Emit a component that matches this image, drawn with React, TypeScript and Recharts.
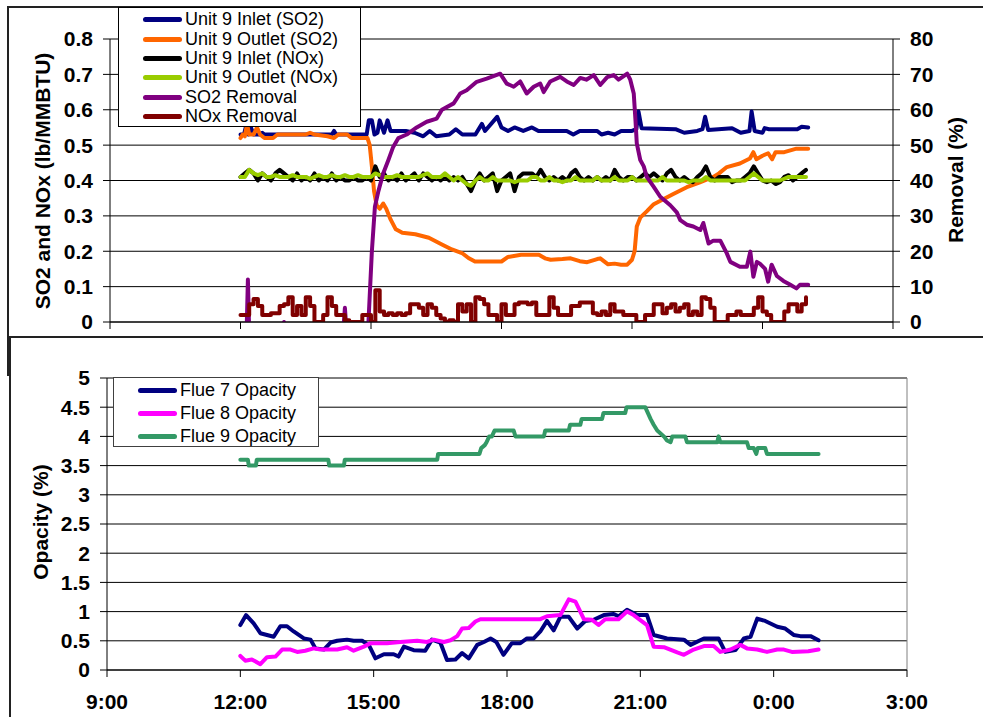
import React from 'react';
import { LineChart, Line, XAxis, YAxis, CartesianGrid, ReferenceLine } from 'recharts';

const FONT = 'Arial, "Liberation Sans", Helvetica, sans-serif';

// ---- axes ----
const HOUR_TICKS = [9, 12, 15, 18, 21, 24, 27];
const LB_TICKS = [0, 0.1, 0.2, 0.3, 0.4, 0.5, 0.6, 0.7, 0.8];
const PCT_TICKS = [0, 10, 20, 30, 40, 50, 60, 70, 80];
const OPACITY_TICKS = [0, 0.5, 1, 1.5, 2, 2.5, 3, 3.5, 4, 4.5, 5];

// ---- NOx logger: 6-minute readings from 12:00 ----
const NOX_START = 12;
const NOX_STEP = 0.1;

const inletNOx = [
  0.41, 0.42, 0.43, 0.42, 0.40, 0.42, 0.41, 0.40, 0.42, 0.43,
  0.42, 0.41, 0.40, 0.42, 0.40, 0.41, 0.40, 0.42, 0.40, 0.41,
  0.40, 0.42, 0.40, 0.41, 0.40, 0.40, 0.41, 0.40, 0.40, 0.41,
  0.40, 0.44, 0.41, 0.42, 0.40, 0.41, 0.40, 0.42, 0.40, 0.41,
  0.42, 0.40, 0.42, 0.41, 0.40, 0.41, 0.40, 0.41, 0.40, 0.41,
  0.40, 0.41, 0.39, 0.37, 0.40, 0.42, 0.40, 0.41, 0.42, 0.37,
  0.40, 0.41, 0.42, 0.37, 0.41, 0.42, 0.42, 0.42, 0.41, 0.43,
  0.41, 0.40, 0.41, 0.40, 0.41, 0.40, 0.42, 0.43, 0.41, 0.40,
  0.41, 0.40, 0.41, 0.40, 0.41, 0.40, 0.43, 0.41, 0.40, 0.41,
  0.41, 0.40, 0.41, 0.42, 0.41, 0.42, 0.41, 0.40, 0.42, 0.43,
  0.41, 0.40, 0.41, 0.40, 0.395, 0.41, 0.42, 0.44, 0.41, 0.40,
  0.41, 0.41, 0.41, 0.395, 0.40, 0.40, 0.41, 0.42, 0.44, 0.42,
  0.40, 0.395, 0.40, 0.39, 0.395, 0.41, 0.415, 0.40, 0.41, 0.42,
  0.43,
];

const outletNOx = [
  0.41, 0.41, 0.43, 0.42, 0.415, 0.42, 0.41, 0.41, 0.415, 0.41,
  0.41, 0.41, 0.415, 0.41, 0.41, 0.41, 0.405, 0.41, 0.415, 0.41,
  0.41, 0.415, 0.41, 0.41, 0.415, 0.41, 0.41, 0.415, 0.41, 0.41,
  0.41, 0.42, 0.415, 0.41, 0.41, 0.41, 0.415, 0.41, 0.41, 0.41,
  0.41, 0.41, 0.415, 0.42, 0.41, 0.41, 0.41, 0.42, 0.41, 0.40,
  0.41, 0.40, 0.39, 0.385, 0.40, 0.41, 0.40, 0.40, 0.41, 0.40,
  0.40, 0.40, 0.40, 0.395, 0.40, 0.40, 0.40, 0.41, 0.41, 0.40,
  0.40, 0.41, 0.40, 0.40, 0.395, 0.40, 0.40, 0.41, 0.40, 0.40,
  0.40, 0.40, 0.41, 0.40, 0.40, 0.40, 0.41, 0.40, 0.40, 0.40,
  0.41, 0.40, 0.40, 0.40, 0.40, 0.40, 0.40, 0.41, 0.40, 0.40,
  0.40, 0.40, 0.40, 0.395, 0.40, 0.40, 0.40, 0.41, 0.40, 0.40,
  0.40, 0.40, 0.40, 0.40, 0.40, 0.40, 0.40, 0.41, 0.42, 0.41,
  0.40, 0.40, 0.40, 0.40, 0.40, 0.405, 0.41, 0.41, 0.41, 0.41,
  0.41,
];

// NOx removal, %
const noxRemoval = [
  2, 2, 5, 6.5, 4.5, 2, 2, 2.5, 2.5, 4.5,
  5, 7, 2, 4.5, 2, 7, 4.5, 0, 0, 2,
  7, 4.5, 2, 2, 0.5, 0, 0, 0, 2, 2,
  0, 9, 3, 2, 2.5, 2, 2.5, 2, 2.5, 5,
  5, 4, 2, 5, 4, 2, 1, 0, 0.5, 0,
  5, 3, 5, 0, 7, 6.5, 5, 2, 2, 0,
  5, 2, 2, 5, 5.5, 5.5, 5, 5.5, 2, 2,
  2, 7, 4, 2, 2, 2, 4.5, 4.5, 5.5, 5.5,
  5.5, 2.5, 2, 3, 2, 5, 3, 3, 2, 2,
  2, 0, 0, 2, 2, 5, 5, 2.5, 4, 5,
  3, 4, 5, 2, 3, 2, 7, 6.5, 4, 0,
  0, 0, 2, 2, 3, 2, 2, 2, 4, 7,
  3, 2, 0, 0, 0, 3, 5, 5, 3, 5,
  7,
];

// ---- SO2 analyser: [hour, value] ----
const inletSO2: [number, number][] = [
  [12.0, 0.53], [12.08, 0.53], [12.12, 0.55], [12.18, 0.53], [12.24, 0.55], [12.3, 0.53],
  [12.45, 0.53], [12.5, 0.535], [12.55, 0.53], [14.1, 0.53], [14.15, 0.54], [14.2, 0.53],
  [14.9, 0.53], [14.95, 0.57], [15.02, 0.57], [15.08, 0.53], [15.15, 0.535], [15.2, 0.57],
  [15.3, 0.535], [15.38, 0.57], [15.45, 0.54], [15.8, 0.54], [16.0, 0.535], [16.2, 0.525],
  [16.35, 0.54], [16.5, 0.525], [16.8, 0.53], [16.95, 0.545], [17.1, 0.53], [17.4, 0.53],
  [17.55, 0.56], [17.62, 0.54], [17.9, 0.58], [18.0, 0.55], [18.15, 0.54], [18.3, 0.55],
  [18.5, 0.54], [18.7, 0.55], [18.85, 0.54], [19.5, 0.54], [19.65, 0.53], [19.8, 0.54],
  [20.2, 0.54], [20.3, 0.53], [20.45, 0.535], [20.6, 0.53], [20.75, 0.54], [21.0, 0.54],
  [21.1, 0.545], [21.15, 0.595], [21.22, 0.548], [22.0, 0.545], [22.2, 0.535], [22.5, 0.54],
  [22.62, 0.545], [22.68, 0.58], [22.75, 0.543], [23.3, 0.548], [23.5, 0.535], [23.7, 0.54],
  [23.75, 0.595], [23.82, 0.54], [24.0, 0.535], [24.05, 0.548], [24.15, 0.545], [24.8, 0.545],
  [24.9, 0.552], [25.05, 0.55],
];

const outletSO2: [number, number][] = [
  [12.0, 0.52], [12.05, 0.53], [12.1, 0.525], [12.15, 0.56], [12.2, 0.53], [12.3, 0.53],
  [12.38, 0.55], [12.45, 0.53], [12.55, 0.52], [12.75, 0.52], [12.85, 0.53], [13.5, 0.53],
  [13.6, 0.535], [13.7, 0.53], [14.0, 0.525], [14.15, 0.52], [14.25, 0.53], [14.45, 0.53],
  [14.55, 0.52], [14.92, 0.52], [14.97, 0.5], [15.02, 0.44], [15.07, 0.37], [15.13, 0.33],
  [15.2, 0.32], [15.28, 0.335], [15.35, 0.32], [15.45, 0.29], [15.57, 0.262], [15.72, 0.252],
  [16.02, 0.248], [16.33, 0.238], [16.63, 0.219], [16.86, 0.205], [17.09, 0.195], [17.24, 0.181],
  [17.39, 0.171], [18.0, 0.171], [18.15, 0.184], [18.45, 0.19], [18.86, 0.19], [19.0, 0.18],
  [19.13, 0.176], [19.4, 0.178], [19.59, 0.18], [19.8, 0.172], [19.97, 0.169], [20.2, 0.178],
  [20.27, 0.18], [20.45, 0.163], [20.6, 0.165], [20.75, 0.162], [20.89, 0.162], [21.0, 0.176],
  [21.06, 0.2], [21.11, 0.27], [21.19, 0.295], [21.35, 0.314], [21.5, 0.333], [21.73, 0.348],
  [21.95, 0.362], [22.26, 0.381], [22.56, 0.395], [22.87, 0.41], [23.0, 0.42], [23.18, 0.438],
  [23.48, 0.448], [23.71, 0.462], [23.79, 0.48], [23.86, 0.46], [24.0, 0.47], [24.13, 0.477],
  [24.22, 0.46], [24.3, 0.48], [24.5, 0.48], [24.78, 0.49], [25.05, 0.49],
];

// SO2 removal, % (slightly negative before the scrubber comes on line)
const so2Removal: [number, number][] = [
  [12.0, -3], [12.14, -3], [12.17, 12], [12.2, -3], [12.95, -3], [13.0, 0], [13.05, -3],
  [14.36, -3], [14.4, 4], [14.44, -3], [14.93, -3],
  [15.02, 20], [15.09, 32.6], [15.17, 37], [15.28, 42], [15.4, 45.8], [15.51, 49.5], [15.63, 52],
  [15.82, 53], [16.05, 55], [16.28, 56.6], [16.51, 57.5], [16.63, 60], [16.9, 61.8], [17.05, 64.6],
  [17.2, 65.5], [17.43, 67.9], [17.66, 68.8], [17.97, 70.2], [18.12, 67.4], [18.28, 66.5],
  [18.43, 68], [18.58, 64.6], [18.74, 66.5], [18.89, 67.4], [18.97, 65], [19.12, 68], [19.35, 69.3],
  [19.5, 68], [19.66, 67], [19.81, 69], [19.95, 68.5], [20.12, 69.8], [20.27, 67], [20.43, 69.2],
  [20.58, 69.8], [20.69, 68.5], [20.81, 69.5], [20.89, 70.2], [20.96, 68.5], [21.04, 64.6],
  [21.08, 57], [21.11, 50.5], [21.19, 45.8], [21.27, 44], [21.34, 41], [21.5, 38.2], [21.65, 35.4],
  [21.88, 33], [22.03, 31], [22.11, 28.8], [22.26, 27.5], [22.41, 27], [22.57, 26], [22.64, 28],
  [22.68, 26], [22.76, 22.2], [22.87, 23], [23.03, 23], [23.18, 19.4], [23.26, 17], [23.48, 15.6],
  [23.64, 15.6], [23.72, 19.9], [23.79, 12.8], [23.87, 17], [23.94, 16.5], [24.06, 15],
  [24.13, 11.4], [24.21, 16.2], [24.33, 13], [24.48, 11.6], [24.63, 10.6], [24.78, 9.5],
  [24.86, 10.5], [25.05, 10.5],
];

// ---- stack opacity, % ----
const flue7: [number, number][] = [
  [12.0, 0.77], [12.13, 0.94], [12.3, 0.8], [12.45, 0.63], [12.6, 0.6], [12.75, 0.57], [12.9, 0.75],
  [13.05, 0.75], [13.2, 0.66], [13.43, 0.54], [13.58, 0.52], [13.69, 0.37], [13.88, 0.35],
  [14.03, 0.47], [14.18, 0.5], [14.4, 0.52], [14.55, 0.5], [14.74, 0.5], [14.89, 0.43], [15.04, 0.2],
  [15.23, 0.27], [15.45, 0.27], [15.56, 0.23], [15.68, 0.4], [15.9, 0.34], [16.16, 0.33],
  [16.31, 0.52], [16.5, 0.47], [16.65, 0.17], [16.84, 0.18], [16.99, 0.29], [17.14, 0.2],
  [17.33, 0.43], [17.48, 0.48], [17.63, 0.54], [17.76, 0.48], [17.92, 0.26], [18.11, 0.46],
  [18.3, 0.46], [18.45, 0.54], [18.6, 0.54], [18.75, 0.66], [18.9, 0.84], [19.05, 0.68],
  [19.2, 0.91], [19.39, 0.91], [19.58, 0.71], [19.76, 0.84], [19.95, 0.86], [20.18, 0.94],
  [20.4, 0.96], [20.51, 0.92], [20.7, 1.03], [20.93, 0.94], [21.15, 0.94], [21.3, 0.6],
  [21.6, 0.54], [21.98, 0.52], [22.13, 0.43], [22.43, 0.54], [22.76, 0.54], [22.91, 0.31],
  [23.14, 0.34], [23.33, 0.54], [23.48, 0.57], [23.63, 0.88], [23.81, 0.84], [24.08, 0.74],
  [24.26, 0.71], [24.45, 0.6], [24.6, 0.58], [24.83, 0.58], [25.01, 0.51],
];

const flue8: [number, number][] = [
  [12.0, 0.24], [12.11, 0.16], [12.26, 0.18], [12.45, 0.1], [12.6, 0.22], [12.79, 0.23],
  [12.94, 0.35], [13.13, 0.35], [13.28, 0.31], [13.46, 0.33], [13.65, 0.37], [13.8, 0.35],
  [14.18, 0.35], [14.4, 0.39], [14.55, 0.33], [14.78, 0.4], [14.93, 0.46], [15.3, 0.46],
  [15.6, 0.48], [15.98, 0.5], [16.2, 0.48], [16.35, 0.52], [16.58, 0.48], [16.73, 0.51],
  [16.88, 0.58], [16.99, 0.71], [17.14, 0.72], [17.29, 0.83], [17.4, 0.87], [18.75, 0.87],
  [18.9, 0.92], [19.2, 0.94], [19.39, 1.21], [19.54, 1.17], [19.73, 0.87], [19.91, 0.86],
  [20.06, 0.77], [20.21, 0.87], [20.51, 0.87], [20.7, 1.0], [20.85, 0.94], [21.15, 0.77],
  [21.3, 0.4], [21.53, 0.39], [21.83, 0.3], [21.98, 0.26], [22.2, 0.35], [22.43, 0.41],
  [22.65, 0.41], [22.8, 0.31], [23.03, 0.35], [23.25, 0.43], [23.4, 0.37], [23.63, 0.35],
  [23.85, 0.31], [24.08, 0.35], [24.23, 0.35], [24.41, 0.31], [24.78, 0.32], [25.01, 0.35],
];

const flue9: [number, number][] = [
  [12.0, 3.6], [12.17, 3.6], [12.19, 3.5], [12.35, 3.5], [12.37, 3.6], [13.98, 3.6], [14.0, 3.5],
  [14.33, 3.5], [14.35, 3.6], [16.43, 3.6], [16.45, 3.7], [17.38, 3.7], [17.42, 3.8], [17.5, 3.85],
  [17.54, 3.9], [17.6, 4.0], [17.66, 4.0], [17.72, 4.1], [18.15, 4.1], [18.19, 4.0], [18.83, 4.0],
  [18.86, 4.1], [19.39, 4.1], [19.42, 4.2], [19.65, 4.2], [19.68, 4.3], [20.14, 4.3], [20.17, 4.4],
  [20.66, 4.4], [20.69, 4.5], [21.11, 4.5], [21.23, 4.3], [21.3, 4.2], [21.38, 4.1], [21.53, 4.0],
  [21.6, 3.93], [21.68, 3.9], [21.72, 4.0], [22.01, 4.0], [22.05, 3.9], [22.73, 3.9], [22.76, 4.0],
  [22.8, 3.9], [23.4, 3.9], [23.44, 3.8], [23.55, 3.8], [23.61, 3.7], [23.64, 3.8], [23.81, 3.8],
  [23.85, 3.7], [25.01, 3.7],
];

type Pt = { t: number; v: number };
const fromGrid = (vals: number[]): Pt[] =>
  vals.map((v, i) => ({ t: Math.round((NOX_START + i * NOX_STEP) * 100) / 100, v }));
const fromPairs = (pts: [number, number][]): Pt[] => pts.map(([t, v]) => ({ t, v }));

type CurveKind = 'linear' | 'stepAfter';
const topSeries: { name: string; color: string; axis: string; curve: CurveKind; data: Pt[] }[] = [
  { name: 'Unit 9 Inlet (SO2)', color: '#000080', axis: 'lb', curve: 'linear', data: fromPairs(inletSO2) },
  { name: 'Unit 9 Outlet (SO2)', color: '#FF6600', axis: 'lb', curve: 'linear', data: fromPairs(outletSO2) },
  { name: 'Unit 9 Inlet (NOx)', color: '#000000', axis: 'lb', curve: 'linear', data: fromGrid(inletNOx) },
  { name: 'Unit 9 Outlet (NOx)', color: '#99CC00', axis: 'lb', curve: 'linear', data: fromGrid(outletNOx) },
  { name: 'SO2 Removal', color: '#800080', axis: 'pct', curve: 'linear', data: fromPairs(so2Removal) },
  { name: 'NOx Removal', color: '#800000', axis: 'pct', curve: 'stepAfter', data: fromGrid(noxRemoval) },
];

const bottomSeries = [
  { name: 'Flue 7 Opacity', color: '#000080', data: fromPairs(flue7) },
  { name: 'Flue 8 Opacity', color: '#FF00FF', data: fromPairs(flue8) },
  { name: 'Flue 9 Opacity', color: '#339966', data: fromPairs(flue9) },
];

const clockLabel = (h: number) => `${h % 24}:00`;
const tickStyle = { fill: '#000', fontSize: 21, fontWeight: 700, fontFamily: FONT };

function Legend({ items, left, top, width, height, rowTop, rowStep, swatchLeft, textLeft, border }: {
  items: { name: string; color: string }[];
  left: number; top: number; width: number; height: number;
  rowTop: number; rowStep: number; swatchLeft: number; textLeft: number; border: string;
}) {
  return (
    <div
      style={{
        position: 'absolute', left, top, width, height, boxSizing: 'border-box',
        border: `1px solid ${border}`, background: '#fff', fontFamily: FONT, fontSize: 18,
        fontStretch: 'normal', color: '#000',
      }}
    >
      {items.map((s, i) => {
        const cy = rowTop + i * rowStep;
        return (
          <React.Fragment key={s.name}>
            <div style={{ position: 'absolute', left: swatchLeft, top: cy - 2, width: 39, height: 5, background: s.color, borderRadius: 2.5 }} />
            <div style={{ position: 'absolute', left: textLeft, top: cy - 11, height: 22, lineHeight: '22px', whiteSpace: 'nowrap' }}>
              {s.name}
            </div>
          </React.Fragment>
        );
      })}
    </div>
  );
}

function AxisTitle({ text, cx, cy }: { text: string; cx: number; cy: number }) {
  return (
    <div
      style={{
        position: 'absolute', left: cx, top: cy, transform: 'translate(-50%, -50%) rotate(-90deg)',
        fontFamily: FONT, fontSize: 21, fontWeight: 700, lineHeight: 1, whiteSpace: 'nowrap', color: '#000',
      }}
    >
      {text}
    </div>
  );
}

export default function App() {
  return (
    <div style={{ position: 'absolute', left: 0, top: 0, width: 983, height: 717, overflow: 'hidden', background: '#fff' }}>
      {/* upper panel frame */}
      <div style={{ position: 'absolute', left: 7, top: 6, width: 1100, height: 366, border: '2px solid #222' }} />

      <div style={{ position: 'absolute', left: 0, top: 0 }}>
        <LineChart width={983} height={340} margin={{ top: 39, right: 0, bottom: 0, left: 0 }}>
          <CartesianGrid yAxisId="lb" horizontal vertical={false} stroke="#000" strokeWidth={1} />
          <XAxis
            dataKey="t" type="number" domain={[9, 27]} ticks={HOUR_TICKS} height={18}
            tickSize={7} tickFormatter={() => ''} axisLine={{ stroke: '#000' }} tickLine={{ stroke: '#000' }}
          />
          <YAxis
            yAxisId="lb" domain={[0, 0.8]} ticks={LB_TICKS} width={110} tickSize={7} tickMargin={10}
            tick={tickStyle} tickFormatter={(v: number) => (v === 0 ? '0' : v.toFixed(1))}
            axisLine={{ stroke: '#000' }} tickLine={{ stroke: '#000' }} interval={0} allowDataOverflow
          />
          <YAxis
            yAxisId="pct" orientation="right" domain={[0, 80]} ticks={PCT_TICKS} width={90} tickSize={7}
            tickMargin={10} tick={tickStyle} axisLine={{ stroke: '#000' }} tickLine={{ stroke: '#000' }}
            interval={0} allowDataOverflow
          />
          <ReferenceLine yAxisId="lb" y={0.8} stroke="#808080" strokeWidth={1} />
          {topSeries.map((s) => (
            <Line
              key={s.name} data={s.data} dataKey="v" yAxisId={s.axis} type={s.curve} stroke={s.color}
              strokeWidth={4} dot={false} activeDot={false} isAnimationActive={false}
              strokeLinejoin="round" strokeLinecap="round"
            />
          ))}
        </LineChart>
      </div>

      <Legend
        items={topSeries} left={118} top={7} width={243} height={120}
        rowTop={11.3} rowStep={19.35} swatchLeft={24} textLeft={66} border="#000"
      />
      <AxisTitle text="SO2 and NOx (lb/MMBTU)" cx={42} cy={181} />
      <AxisTitle text="Removal (%)" cx={955} cy={180} />

      {/* lower panel frame */}
      <div style={{ position: 'absolute', left: 9, top: 336, width: 1100, height: 500, border: '2px solid #222', background: '#fff' }} />

      <div style={{ position: 'absolute', left: 0, top: 340 }}>
        <LineChart width={983} height={377} margin={{ top: 38, right: 76, bottom: 0, left: 0 }}>
          <CartesianGrid horizontal vertical={false} stroke="#000" strokeWidth={1} />
          <XAxis
            dataKey="t" type="number" domain={[9, 27]} ticks={HOUR_TICKS} height={47} tickSize={7}
            tickMargin={17} tick={tickStyle} tickFormatter={clockLabel} interval={0}
            axisLine={{ stroke: '#000' }} tickLine={{ stroke: '#000' }}
          />
          <YAxis
            domain={[0, 5]} ticks={OPACITY_TICKS} width={107} tickSize={7} tickMargin={10} tick={tickStyle}
            interval={0} axisLine={{ stroke: '#000' }} tickLine={{ stroke: '#000' }}
          />
          <ReferenceLine y={5} stroke="#808080" strokeWidth={1} />
          <ReferenceLine x={27} stroke="#808080" strokeWidth={1} />
          {bottomSeries.map((s) => (
            <Line
              key={s.name} data={s.data} dataKey="v" type="linear" stroke={s.color} strokeWidth={4}
              dot={false} activeDot={false} isAnimationActive={false} strokeLinejoin="round" strokeLinecap="round"
            />
          ))}
        </LineChart>
      </div>

      <Legend
        items={bottomSeries} left={113} top={377} width={206} height={70}
        rowTop={11.5} rowStep={23.3} swatchLeft={24} textLeft={66} border="#404040"
      />
      <AxisTitle text="Opacity (%)" cx={40} cy={522} />
    </div>
  );
}
